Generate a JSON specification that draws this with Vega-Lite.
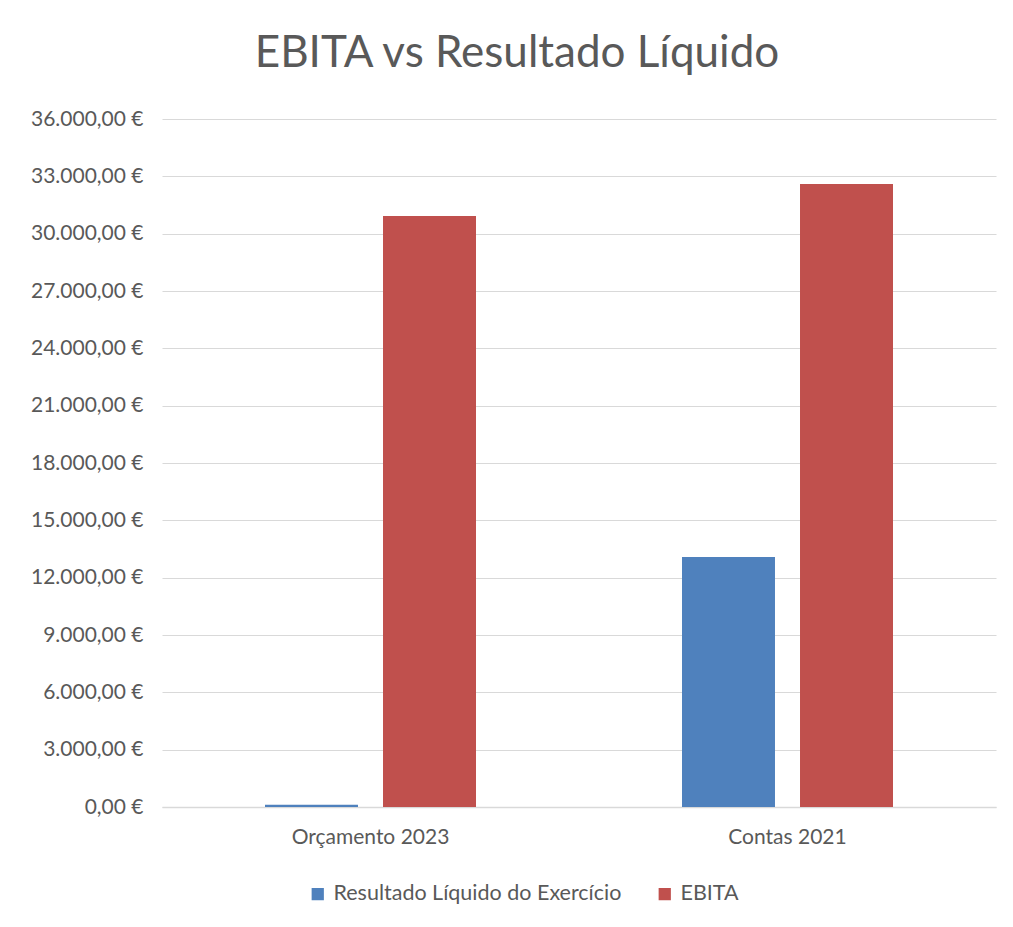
{
  "$schema": "https://vega.github.io/schema/vega-lite/v6.json",
  "width": 834,
  "height": 688,
  "autosize": {"type": "none"},
  "padding": {"left": 162, "top": 119, "right": 17, "bottom": 120},
  "background": "white",
  "config": {
    "font": "Lato",
    "view": {"stroke": null},
    "locale": {"number": {"decimal": ",", "thousands": ".", "grouping": [3], "currency": ["", "\u00a0€"]}}
  },
  "title": {
    "text": "EBITA vs Resultado Líquido",
    "fontSize": 44,
    "font": "Lato",
    "fontWeight": "normal",
    "color": "#595959",
    "anchor": "middle",
    "dx": -62,
    "offset": 32
  },
  "data": {
    "values": [
      {"categoria": "Orçamento 2023", "serie": "Resultado Líquido do Exercício", "valor": 120},
      {"categoria": "Orçamento 2023", "serie": "EBITA", "valor": 30920},
      {"categoria": "Contas 2021", "serie": "Resultado Líquido do Exercício", "valor": 13080},
      {"categoria": "Contas 2021", "serie": "EBITA", "valor": 32600}
    ]
  },
  "mark": {"type": "bar"},
  "encoding": {
    "x": {
      "field": "categoria",
      "type": "nominal",
      "sort": ["Orçamento 2023", "Contas 2021"],
      "scale": {"paddingInner": 0.494, "paddingOuter": 0.247},
      "axis": {
        "title": null,
        "labelAngle": 0,
        "labelFontSize": 21,
        "labelColor": "#595959",
        "labelPadding": 19,
        "ticks": false,
        "domainColor": "#d9d9d9",
        "domainWidth": 1.5
      }
    },
    "xOffset": {
      "field": "serie",
      "type": "nominal",
      "sort": ["Resultado Líquido do Exercício", "EBITA"],
      "scale": {"paddingInner": 0.212, "paddingOuter": 0}
    },
    "y": {
      "field": "valor",
      "type": "quantitative",
      "scale": {"domain": [0, 36000], "nice": false},
      "axis": {
        "title": null,
        "values": [0, 3000, 6000, 9000, 12000, 15000, 18000, 21000, 24000, 27000, 30000, 33000, 36000],
        "format": "$,.2f",
        "labelFontSize": 21,
        "labelColor": "#595959",
        "labelPadding": 19,
        "ticks": false,
        "domain": false,
        "gridColor": "#d9d9d9",
        "gridWidth": 1.2
      }
    },
    "color": {
      "field": "serie",
      "type": "nominal",
      "sort": ["Resultado Líquido do Exercício", "EBITA"],
      "scale": {"domain": ["Resultado Líquido do Exercício", "EBITA"], "range": ["#4F81BD", "#C0504D"]},
      "legend": {
        "title": null,
        "orient": "none",
        "direction": "horizontal",
        "legendX": 145,
        "legendY": 764,
        "symbolType": "square",
        "symbolSize": 150,
        "symbolStrokeWidth": 0,
        "labelFontSize": 21.5,
        "labelLimit": 500,
        "labelColor": "#595959",
        "columnPadding": 32,
        "labelOffset": 5
      }
    }
  }
}
